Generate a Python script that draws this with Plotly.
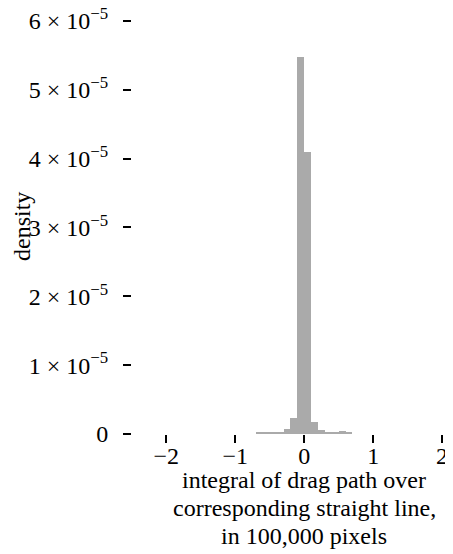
import plotly.graph_objects as go

# Histogram data (bin width 0.1, density per pixel)
bin_left = [-0.7, -0.6, -0.5, -0.4, -0.3, -0.2, -0.1, 0.0, 0.1, 0.2, 0.3, 0.4, 0.5, 0.6]
density = [0.030e-5, 0.033e-5, 0.015e-5, 0.015e-5, 0.070e-5, 0.230e-5, 5.48e-5,
           4.09e-5, 0.170e-5, 0.062e-5, 0.025e-5, 0.025e-5, 0.043e-5, 0.015e-5]
bin_width = 0.1

x_ticks = [-2, -1, 0, 1, 2]
y_ticks = [0, 1e-5, 2e-5, 3e-5, 4e-5, 5e-5, 6e-5]
y_ticktext = ["0"] + [f"{k} × 10<sup>−5</sup>" for k in range(1, 7)]
x_title_lines = ["integral of drag path over", "corresponding straight line,", "in 100,000 pixels"]

centers = [b + bin_width / 2 for b in bin_left]

FONT = "Liberation Serif"
FS = 24

# The page body has an 8px default margin, so the figure is 8px smaller.
fig = go.Figure()
fig.add_trace(go.Bar(
    x=centers, y=density, width=bin_width,
    marker=dict(color="#aaaaaa", line=dict(width=0)),
    hoverinfo="skip",
))

fig.update_layout(
    width=445, height=546,
    margin=dict(l=124, r=4, t=8, b=120, autoexpand=False),
    paper_bgcolor="white", plot_bgcolor="white",
    showlegend=False, bargap=0,
    font=dict(family=FONT, size=FS, color="black"),
)
fig.update_xaxes(
    range=[-2.497, 2.1], tickvals=x_ticks, automargin=False,
    showgrid=False, zeroline=False, showline=False,
    ticks="outside", ticklen=8, tickwidth=2, tickcolor="black",
    ticklabelstandoff=-8, ticklabeloverflow="allow",
    tickfont=dict(family=FONT, size=FS, color="black"),
)
fig.update_yaxes(
    range=[0, 6.07e-5], tickvals=y_ticks, ticktext=y_ticktext, automargin=False,
    showgrid=False, zeroline=False, showline=False,
    ticks="outside", ticklen=8, tickwidth=2, tickcolor="black",
    ticklabelstandoff=10, ticklabeloverflow="allow",
    tickfont=dict(family=FONT, size=FS, color="black"),
)

for i, line in enumerate(x_title_lines):
    fig.add_annotation(
        text=line,
        x=0, xref="x", y=0, yref="paper", yshift=-46 - 28 * i,
        xanchor="center", yanchor="middle", showarrow=False,
        font=dict(family=FONT, size=FS, color="black"),
    )
fig.add_annotation(
    text="density", textangle=-90,
    x=0, xref="paper", xshift=-110, y=0.5, yref="paper", yshift=-2,
    xanchor="center", yanchor="middle", showarrow=False,
    font=dict(family=FONT, size=FS, color="black"),
)

fig.write_html("out.html")
